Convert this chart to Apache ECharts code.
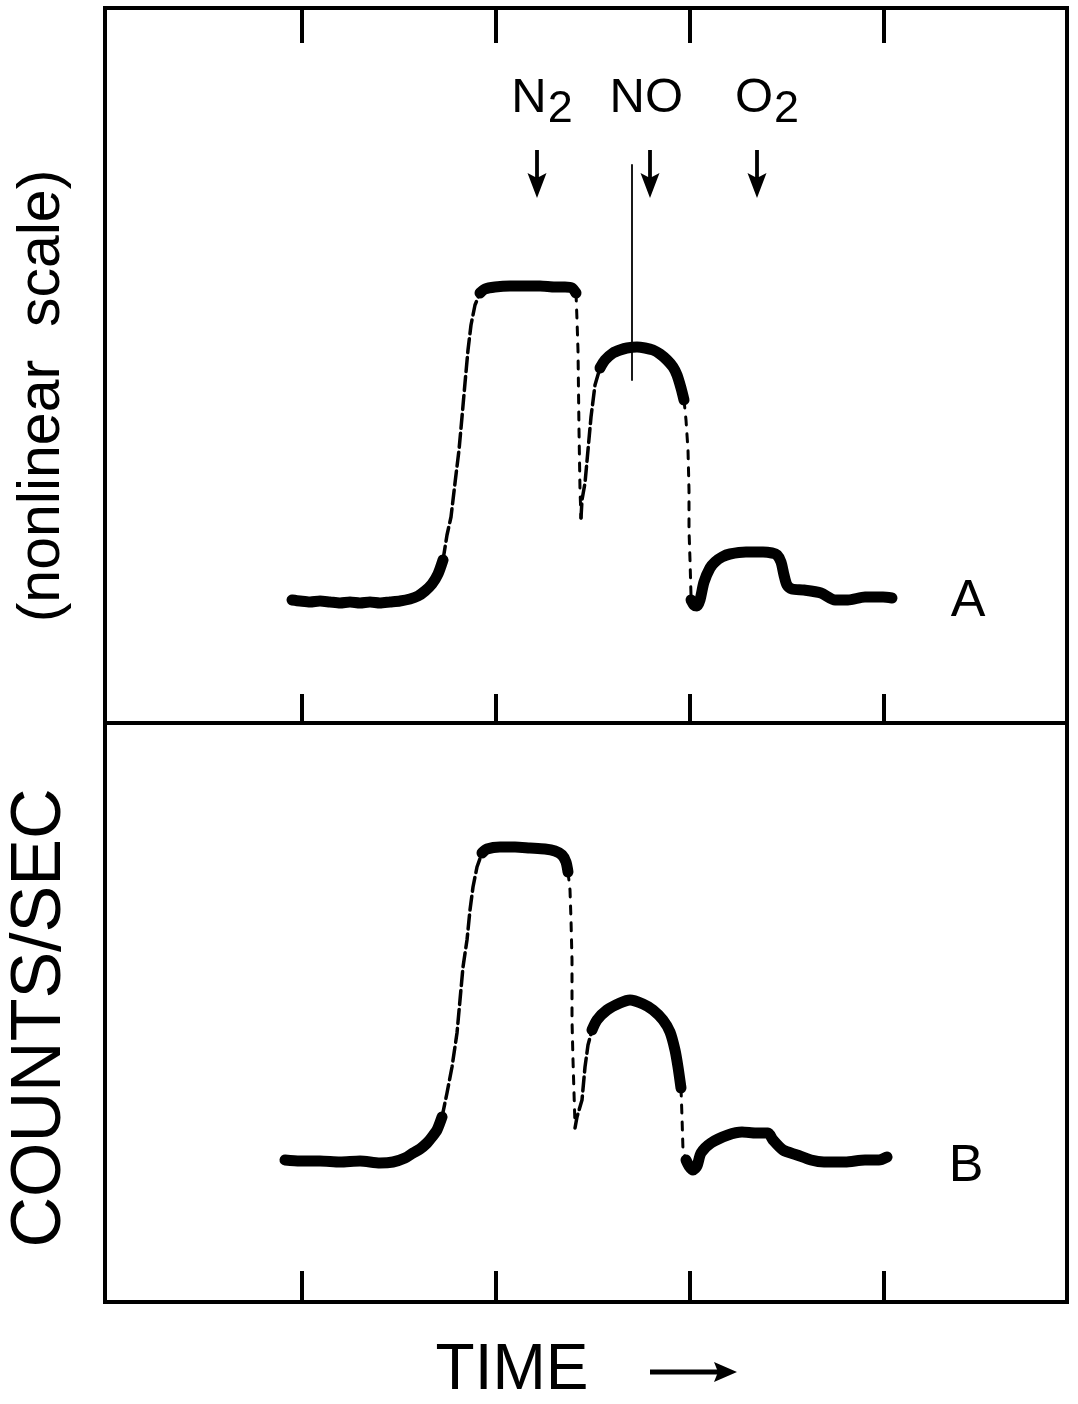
<!DOCTYPE html>
<html><head><meta charset="utf-8">
<script src="https://cdn.jsdelivr.net/npm/echarts@6/dist/echarts.min.js"></script>
<style>html,body{margin:0;padding:0;background:#fff}#chart{width:1078px;height:1404px}</style>
</head><body><div id="chart"></div>
<script>
// ---- data (time: arbitrary units, signal: arbitrary counts/sec units) ----
const timeTicks = [197, 391, 585, 779];
const gasLabels = ['N2', 'NO', 'O2'];
const gasArrowTime = [432, 545, 652];
const gasLabelTime = [437, 548, 662];
const panelLabels = ['A', 'B'];
const panelLabelTime = [863, 861];
const panelLabelValue = [121, 135];

// Panel A (nonlinear scale)
const traceA_baseline = [[187,123],[195,122],[205,121],[215,122],[225,121],[235,120],[245,121],[255,120],[265,121],[275,120],[285,121],[295,122],[305,124],[313,127],[320,132],[327,139],[333,149],[338,163]];
const traceA_n2Rise = [[338,163],[342,188],[346,206],[350,240],[354,273],[357,306],[360,340],[363,373],[366,398],[370,418],[375,430]];
const traceA_n2Top = [[375,430],[380,434],[390,436],[405,437],[420,437],[435,437],[450,436],[460,436],[467,435],[471,430]];
const traceA_n2Fall = [[471,430],[472,403],[473,373],[474,293],[475,233],[476,205]];
const traceA_noRise = [[476,205],[477,223],[480,240],[483,273],[486,306],[490,338],[495,355]];
const traceA_noTop = [[495,355],[500,363],[508,370],[515,373],[522,375],[532,376],[540,375],[548,373],[555,369],[562,363],[568,356],[572,348],[576,335],[579,323]];
const traceA_noFall = [[579,323],[581,303],[583,273],[584,233],[584,193],[585,163],[586,128]];
const traceA_spike = [[527,558],[527,343]];
const traceA_o2 = [[586,123],[589,118],[592,117],[595,123],[599,141],[605,155],[610,161],[617,166],[625,169],[641,171],[658,171],[667,170],[672,168],[676,161],[679,148],[682,138],[687,134],[699,133],[716,130],[730,123],[743,123],[760,126],[778,126],[787,125]];

// Panel B (counts/sec)
const traceB_baseline = [[180,142],[195,141],[215,141],[235,140],[255,141],[275,139],[288,140],[300,144],[308,149],[315,153],[322,159],[327,165],[332,172],[337,185]];
const traceB_n2Rise = [[337,185],[342,209],[347,235],[352,269],[355,302],[358,335],[362,362],[365,392],[368,415],[372,435],[377,449]];
const traceB_n2Top = [[377,449],[382,453],[395,455],[410,455],[425,454],[440,453],[450,451],[457,447],[461,440],[463,430]];
const traceB_n2Fall = [[463,430],[465,412],[466,382],[467,342],[467,282],[468,242],[470,177]];
const traceB_noRise = [[470,174],[472,185],[477,202],[480,235],[483,257],[487,272]];
const traceB_noTop = [[487,272],[492,282],[502,292],[515,299],[525,302],[538,298],[548,292],[558,282],[565,270],[570,252],[573,235],[576,214]];
const traceB_noFall = [[576,214],[577,185],[578,152],[581,142]];
const traceB_o2 = [[581,142],[584,136],[588,132],[592,136],[596,149],[606,159],[623,167],[637,170],[651,169],[663,169],[668,162],[678,152],[692,147],[706,142],[719,140],[740,140],[760,142],[774,142],[782,145]];

// ---- chart ----
const FONT = '"Liberation Sans", Arial, Helvetica, sans-serif';
const chart = echarts.init(document.getElementById('chart'), null, {renderer: 'canvas'});

const styles = {
  noisy: {width: 11, type: 'solid'},
  edge: {width: 3.5, type: [14, 5]},
  fall: {width: 3, type: [8, 9]},
  spike: {width: 1.8, type: 'solid'}
};
function seg(data, kind, panel) {
  return {
    type: 'line', data: data, xAxisIndex: panel === 0 ? 1 : 2, yAxisIndex: panel,
    showSymbol: false, symbol: 'none', silent: true,
    smooth: kind === 'noisy' ? 0.25 : false,
    lineStyle: Object.assign({color: '#000', cap: 'round', join: 'round'}, styles[kind])
  };
}

const segmentsA = [[traceA_baseline,'noisy'],[traceA_n2Rise,'edge'],[traceA_n2Top,'noisy'],[traceA_n2Fall,'fall'],[traceA_noRise,'edge'],[traceA_noTop,'noisy'],[traceA_noFall,'fall'],[traceA_spike,'spike'],[traceA_o2,'noisy']];
const segmentsB = [[traceB_baseline,'noisy'],[traceB_n2Rise,'edge'],[traceB_n2Top,'noisy'],[traceB_n2Fall,'fall'],[traceB_noRise,'edge'],[traceB_noTop,'noisy'],[traceB_noFall,'fall'],[traceB_o2,'noisy']];

const series = [];
segmentsA.forEach(s => series.push(seg(s[0], s[1], 0)));
segmentsB.forEach(s => series.push(seg(s[0], s[1], 1)));

// gas labels (panel A)
series.push({
  type: 'scatter', xAxisIndex: 0, yAxisIndex: 0, symbolSize: 0, silent: true,
  itemStyle: {opacity: 1},
  data: gasLabels.map((g, i) => ({name: g, value: [gasLabelTime[i], 625]})),
  label: {
    show: true, position: 'inside', opacity: 1, textBorderWidth: 0,
    formatter: p => { const m = p.name.match(/^(.*?)(\d*)$/); return '{m|' + m[1] + '}{s|' + (m[2] || ' ') + '}'; },
    rich: {
      m: {fontSize: 49, fontFamily: FONT, color: '#000', lineHeight: 48, verticalAlign: 'top'},
      s: {fontSize: 45, fontFamily: FONT, color: '#000', lineHeight: 48, padding: [24, 0, 0, 1]}
    }
  }
});
// arrows pointing down at the gas admission times
series.push({
  type: 'scatter', xAxisIndex: 1, yAxisIndex: 0, silent: true,
  symbol: 'path://M8,0 L12,0 L12,28 L20,24 L10,50 L0,24 L8,28 Z',
  symbolSize: [19, 48], symbolKeepAspect: false,
  itemStyle: {color: '#000', opacity: 1},
  data: gasArrowTime.map(t => [t, 549])
});
// panel labels A / B
panelLabels.forEach((lab, i) => {
  series.push({
    type: 'scatter', xAxisIndex: i === 0 ? 1 : 2, yAxisIndex: i, symbolSize: 0, silent: true,
    itemStyle: {opacity: 1},
    data: [{name: lab, value: [panelLabelTime[i], panelLabelValue[i]]}],
    label: {show: true, position: 'inside', formatter: '{b}', fontSize: 52, fontFamily: FONT, color: '#000', opacity: 1, textBorderWidth: 0}
  });
});

function xAx(grid, pos, len) {
  return {
    type: 'value', gridIndex: grid, position: pos, min: 0, max: 962,
    axisLine: {show: false, onZero: false}, splitLine: {show: false}, axisLabel: {show: false},
    axisTick: {show: len > 0, inside: true, length: len, customValues: timeTicks,
      lineStyle: {color: '#000', width: 4}}
  };
}

chart.setOption({
  animation: false,
  backgroundColor: '#fff',
  grid: [
    {left: 105, right: 11, top: 8, height: 715, show: true, borderColor: '#000', borderWidth: 4, backgroundColor: 'transparent'},
    {left: 105, right: 11, top: 723, height: 579, show: true, borderColor: '#000', borderWidth: 4, backgroundColor: 'transparent'}
  ],
  xAxis: [xAx(0, 'top', 35), xAx(0, 'bottom', 29), xAx(1, 'bottom', 31)],
  yAxis: [
    {type: 'value', gridIndex: 0, min: 0, max: 715, show: false},
    {type: 'value', gridIndex: 1, min: 0, max: 579, show: false}
  ],
  series: series,
  graphic: [
    {type: 'text', x: 43, y: 396, rotation: Math.PI / 2,
      style: {text: '(nonlinear  scale)', fontSize: 59, fontFamily: FONT, fill: '#000', align: 'center', verticalAlign: 'middle'}},
    {type: 'text', x: 41, y: 1018, rotation: Math.PI / 2,
      style: {text: 'COUNTS/SEC', fontSize: 70, fontFamily: FONT, fill: '#000', align: 'center', verticalAlign: 'middle'}},
    {type: 'text', x: 512, y: 1371,
      style: {text: 'TIME', fontSize: 64, fontFamily: FONT, fill: '#000', align: 'center', verticalAlign: 'middle'}},
    {type: 'line', shape: {x1: 650, y1: 1372, x2: 720, y2: 1372}, style: {stroke: '#000', lineWidth: 5}},
    {type: 'polygon', shape: {points: [[737, 1372], [714, 1362], [718, 1372], [714, 1382]]}, style: {fill: '#000'}}
  ]
});
</script></body></html>
